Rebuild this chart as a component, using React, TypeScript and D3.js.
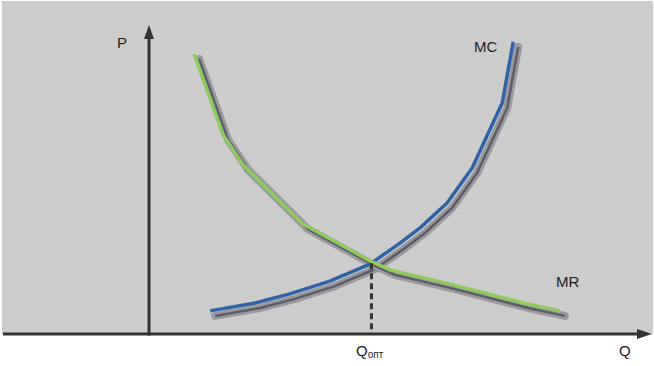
import { useEffect, useRef } from 'react';
import * as d3 from 'd3';

// MC (marginal cost) curve
const mcQ = [12.2, 21.2, 28.1, 36.1, 44.1, 50.1, 54.1, 59.5, 64.5, 70.5, 72.7];
const mcP = [7.6, 10.2, 13.2, 17.4, 23.0, 29.9, 34.9, 43.1, 54.6, 76.0, 96.1];
// MR (marginal revenue) curve
const mrQ = [9.0, 14.8, 18.8, 30.7, 39.1, 44.5, 48.1, 60.1, 74.7, 82.0];
const mrP = [92.1, 65.5, 55.6, 36.2, 28.6, 23.7, 21.1, 16.4, 10.2, 7.6];
const qOpt = 44.4;
const pOpt = 23.3;

export default function App() {
  const ref = useRef<SVGSVGElement>(null);

  useEffect(() => {
    if (!ref.current) return;
    const W = 654, H = 366;
    const svg = d3.select(ref.current).attr('width', W).attr('height', H);
    svg.selectAll('*').remove();

    const x = d3.scaleLinear().domain([0, 100]).range([149, 650]);
    const y = d3.scaleLinear().domain([0, 100]).range([334, 30]);
    const x0 = x(0), y0 = y(0);

    svg.append('rect').attr('x', 2).attr('y', 1).attr('width', 651).attr('height', y0 - 1)
      .attr('fill', '#cccccc');

    const line = d3.line<[number, number]>().x(d => x(d[0])).y(d => y(d[1]));
    const curves = [
      { pts: mcQ.map((q, i) => [q, mcP[i]] as [number, number]), color: '#2f63a6' },
      { pts: mrQ.map((q, i) => [q, mrP[i]] as [number, number]), color: '#8dcb5e' },
    ];

    // shadows first
    curves.forEach(c => {
      const g = svg.append('g').attr('transform', 'translate(5,5)');
      g.append('path').attr('d', line(c.pts)).attr('fill', 'none')
        .attr('stroke', '#9a9a9e').attr('stroke-width', 8)
        .attr('stroke-linecap', 'round').attr('stroke-linejoin', 'round');
      g.append('path').attr('d', line(c.pts)).attr('fill', 'none')
        .attr('stroke', '#5c5c68').attr('stroke-width', 2.5)
        .attr('stroke-linejoin', 'round');
    });
    curves.forEach(c => {
      svg.append('path').attr('d', line(c.pts)).attr('fill', 'none')
        .attr('stroke', c.color).attr('stroke-width', 3.5)
        .attr('stroke-linejoin', 'round');
    });

    // dashed drop line
    svg.append('line').attr('x1', x(qOpt)).attr('x2', x(qOpt))
      .attr('y1', y(pOpt)).attr('y2', y0)
      .attr('stroke', '#333').attr('stroke-width', 3).attr('stroke-dasharray', '6,4');

    // axes
    svg.append('line').attr('x1', 3).attr('x2', 640).attr('y1', y0).attr('y2', y0)
      .attr('stroke', '#333').attr('stroke-width', 3);
    svg.append('line').attr('x1', x0).attr('x2', x0).attr('y1', y0 + 1.5).attr('y2', 36)
      .attr('stroke', '#333').attr('stroke-width', 3);
    svg.append('path').attr('d', `M652,${y0} L637,${y0 - 5} L637,${y0 + 5} Z`).attr('fill', '#333');
    svg.append('path').attr('d', `M${x0},25 L${x0 - 5},39 L${x0 + 5},39 Z`).attr('fill', '#333');

    const font = 'Liberation Sans, Arial, sans-serif';
    const label = (tx: number, ty: number, s: string) =>
      svg.append('text').attr('x', tx).attr('y', ty).attr('font-family', font)
        .attr('font-size', 15).attr('fill', '#222').text(s);
    label(117, 48, 'P');
    label(474, 52, 'MC');
    label(556, 287, 'MR');
    label(619, 356, 'Q');
    const t = label(356, 356, 'Q');
    t.append('tspan').attr('font-size', 10).attr('dy', 2).text('опт');
  }, []);

  return <svg ref={ref} style={{ position: 'absolute', left: 0, top: 0, display: 'block' }} />;
}
